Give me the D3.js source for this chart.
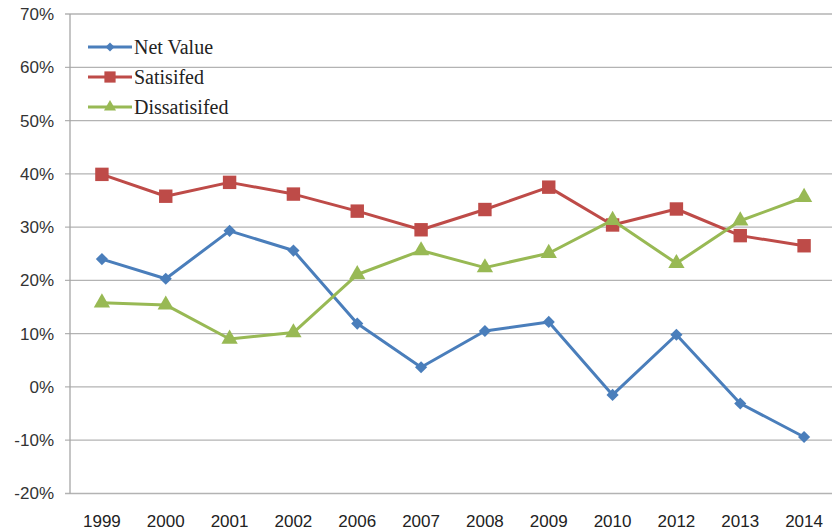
<!DOCTYPE html>
<html><head><meta charset="utf-8">
<script src="https://cdn.jsdelivr.net/npm/d3@7"></script>
<style>body{margin:0;background:#fff}svg{display:block}</style>
</head><body>
<script>
const years = ["1999","2000","2001","2002","2006","2007","2008","2009","2010","2012","2013","2014"];
const netValue = [24.0, 20.3, 29.3, 25.6, 11.9, 3.7, 10.5, 12.2, -1.5, 9.8, -3.1, -9.4];
const satisfied = [39.9, 35.8, 38.4, 36.2, 33.0, 29.5, 33.3, 37.5, 30.4, 33.4, 28.4, 26.5];
const dissatisfied = [15.8, 15.4, 9.0, 10.2, 21.1, 25.6, 22.4, 25.1, 31.3, 23.2, 31.2, 35.6];
const yTicks = [-20, -10, 0, 10, 20, 30, 40, 50, 60, 70];
const seriesNames = ["Net Value", "Satisifed", "Dissatisifed"];

const W = 832, H = 532;
const svg = d3.select("body").append("svg").attr("width", W).attr("height", H);
const serif = "Liberation Serif, Times New Roman, serif";
const sans = "Liberation Sans, Arial, sans-serif";

const x = d3.scaleBand().domain(years).range([70, 836]);
const y = d3.scaleLinear().domain([-20, 70]).range([493.5, 14]);

// gridlines
svg.append("g").selectAll("line").data(yTicks).join("line")
  .attr("x1", 65).attr("x2", W).attr("y1", d => y(d)).attr("y2", d => y(d))
  .attr("stroke", "#b3b3b3").attr("stroke-width", 1.3);
// y axis line
svg.append("line").attr("x1", 70).attr("x2", 70).attr("y1", y(70)).attr("y2", y(-20))
  .attr("stroke", "#a6a6a6").attr("stroke-width", 1.3);
// y labels
svg.append("g").selectAll("text").data(yTicks).join("text")
  .attr("x", 54).attr("y", d => y(d)).attr("dy", "0.35em").attr("text-anchor", "end")
  .style("font-family", sans).style("font-size", "17px").attr("fill", "#333")
  .text(d => d + "%");
// x labels
svg.append("g").selectAll("text").data(years).join("text")
  .attr("x", d => x(d) + x.bandwidth() / 2).attr("y", 527).attr("text-anchor", "middle")
  .style("font-family", sans).style("font-size", "17px").attr("fill", "#222")
  .text(d => d);

const series = [
  {name: seriesNames[0], values: netValue, color: "#4A7EBB", sym: d3.symbolSquare, size: 74, rot: 45},
  {name: seriesNames[1], values: satisfied, color: "#BE4B48", sym: d3.symbolSquare, size: 180, rot: 0},
  {name: seriesNames[2], values: dissatisfied, color: "#98B954", sym: d3.symbolTriangle, size: 115, rot: 0}
];

const line = d3.line().x((d, i) => x(years[i]) + x.bandwidth() / 2).y(d => y(d));

series.forEach(s => {
  svg.append("path").datum(s.values).attr("d", line)
    .attr("fill", "none").attr("stroke", s.color).attr("stroke-width", 3).attr("stroke-linejoin", "round");
  svg.append("g").selectAll("path").data(s.values).join("path")
    .attr("transform", (d, i) => `translate(${x(years[i]) + x.bandwidth() / 2},${y(d)}) rotate(${s.rot})`)
    .attr("d", d3.symbol().type(s.sym).size(s.size))
    .attr("fill", s.color);
});

// legend
const lg = svg.append("g");
series.forEach((s, i) => {
  const ly = 47 + i * 30;
  lg.append("line").attr("x1", 88).attr("x2", 132).attr("y1", ly).attr("y2", ly)
    .attr("stroke", s.color).attr("stroke-width", 3);
  lg.append("path").attr("transform", `translate(110,${ly}) rotate(${s.rot})`)
    .attr("d", d3.symbol().type(s.sym).size(s.size * (i === 1 ? 0.7 : 0.55))).attr("fill", s.color);
  lg.append("text").attr("x", 134).attr("y", ly).attr("dy", "0.35em")
    .style("font-family", serif).style("font-size", "20px").attr("fill", "#222").text(s.name);
});
</script>
</body></html>
